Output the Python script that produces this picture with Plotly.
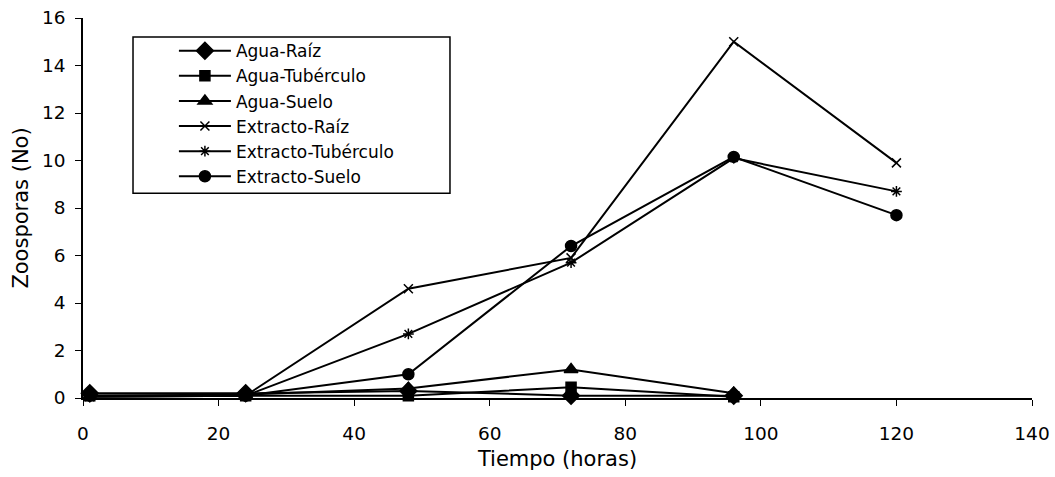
import plotly.graph_objects as go

horas = [1, 24, 48, 72, 96, 120]
agua_raiz = [0.2, 0.2, 0.3, 0.1, 0.1]
agua_tuberculo = [0.1, 0.1, 0.1, 0.45, 0.05]
agua_suelo = [0.1, 0.15, 0.4, 1.2, 0.2]
extracto_raiz = [0.05, 0.1, 4.6, 5.9, 15.0, 9.9]
extracto_tuberculo = [0.05, 0.1, 2.7, 5.7, 10.1, 8.7]
extracto_suelo = [0.1, 0.1, 1.0, 6.4, 10.15, 7.7]

series = [
    ("Agua-Raíz", agua_raiz, "diamond", 13),
    ("Agua-Tubérculo", agua_tuberculo, "square", 10),
    ("Agua-Suelo", agua_suelo, "triangle-up", 12),
    ("Extracto-Raíz", extracto_raiz, "x-thin-open", 9),
    ("Extracto-Tubérculo", extracto_tuberculo, "asterisk-open", 9),
    ("Extracto-Suelo", extracto_suelo, "circle", 11),
]

fig = go.Figure()
for name, vals, sym, sz in series:
    fig.add_trace(go.Scatter(
        x=horas[:len(vals)], y=vals, name=name, mode="lines+markers",
        line=dict(color="black", width=2),
        marker=dict(symbol=sym, size=sz, color="black",
                    line=dict(color="black", width=1.5)),
        cliponaxis=False,
    ))

font = "DejaVu Sans, Verdana, sans-serif"
fig.add_shape(type="rect", xref="paper", yref="paper",
              x0=0.0527, x1=0.3867, y0=0.539, y1=0.95,
              line=dict(color="black", width=1.5), fillcolor="rgba(0,0,0,0)",
              layer="above")
fig.update_layout(
    width=1055, height=477,
    margin=dict(l=83, r=23, t=18, b=79),
    paper_bgcolor="white", plot_bgcolor="white",
    font=dict(family=font, size=18, color="black"),
    showlegend=True,
    legend=dict(x=0.0958, y=0.96, xanchor="left", yanchor="top",
                borderwidth=0, bgcolor="rgba(0,0,0,0)",
                itemwidth=52,
                font=dict(size=17, family=font), tracegroupgap=0),
    xaxis=dict(range=[0, 140], dtick=20, showgrid=False, zeroline=False,
               automargin=False,
               showline=True, linecolor="black", linewidth=1.5,
               ticks="outside", ticklen=6, tickcolor="black",
               ticklabelstandoff=12, tickfont=dict(size=18.5),
               title=dict(text="Tiempo (horas)", standoff=8,
                          font=dict(size=21))),
    yaxis=dict(range=[0, 16], dtick=2, showgrid=False, zeroline=False,
               automargin=False,
               showline=True, linecolor="black", linewidth=1.5,
               ticks="outside", ticklen=6, tickcolor="black",
               ticklabelstandoff=6, tickfont=dict(size=18.5),
               title=dict(text="Zoosporas (No)", standoff=8,
                          font=dict(size=21))),
)
fig.write_html("out.html", config={"displayModeBar": False},
               post_script="document.body.style.margin='0';document.body.style.overflow='hidden';")
